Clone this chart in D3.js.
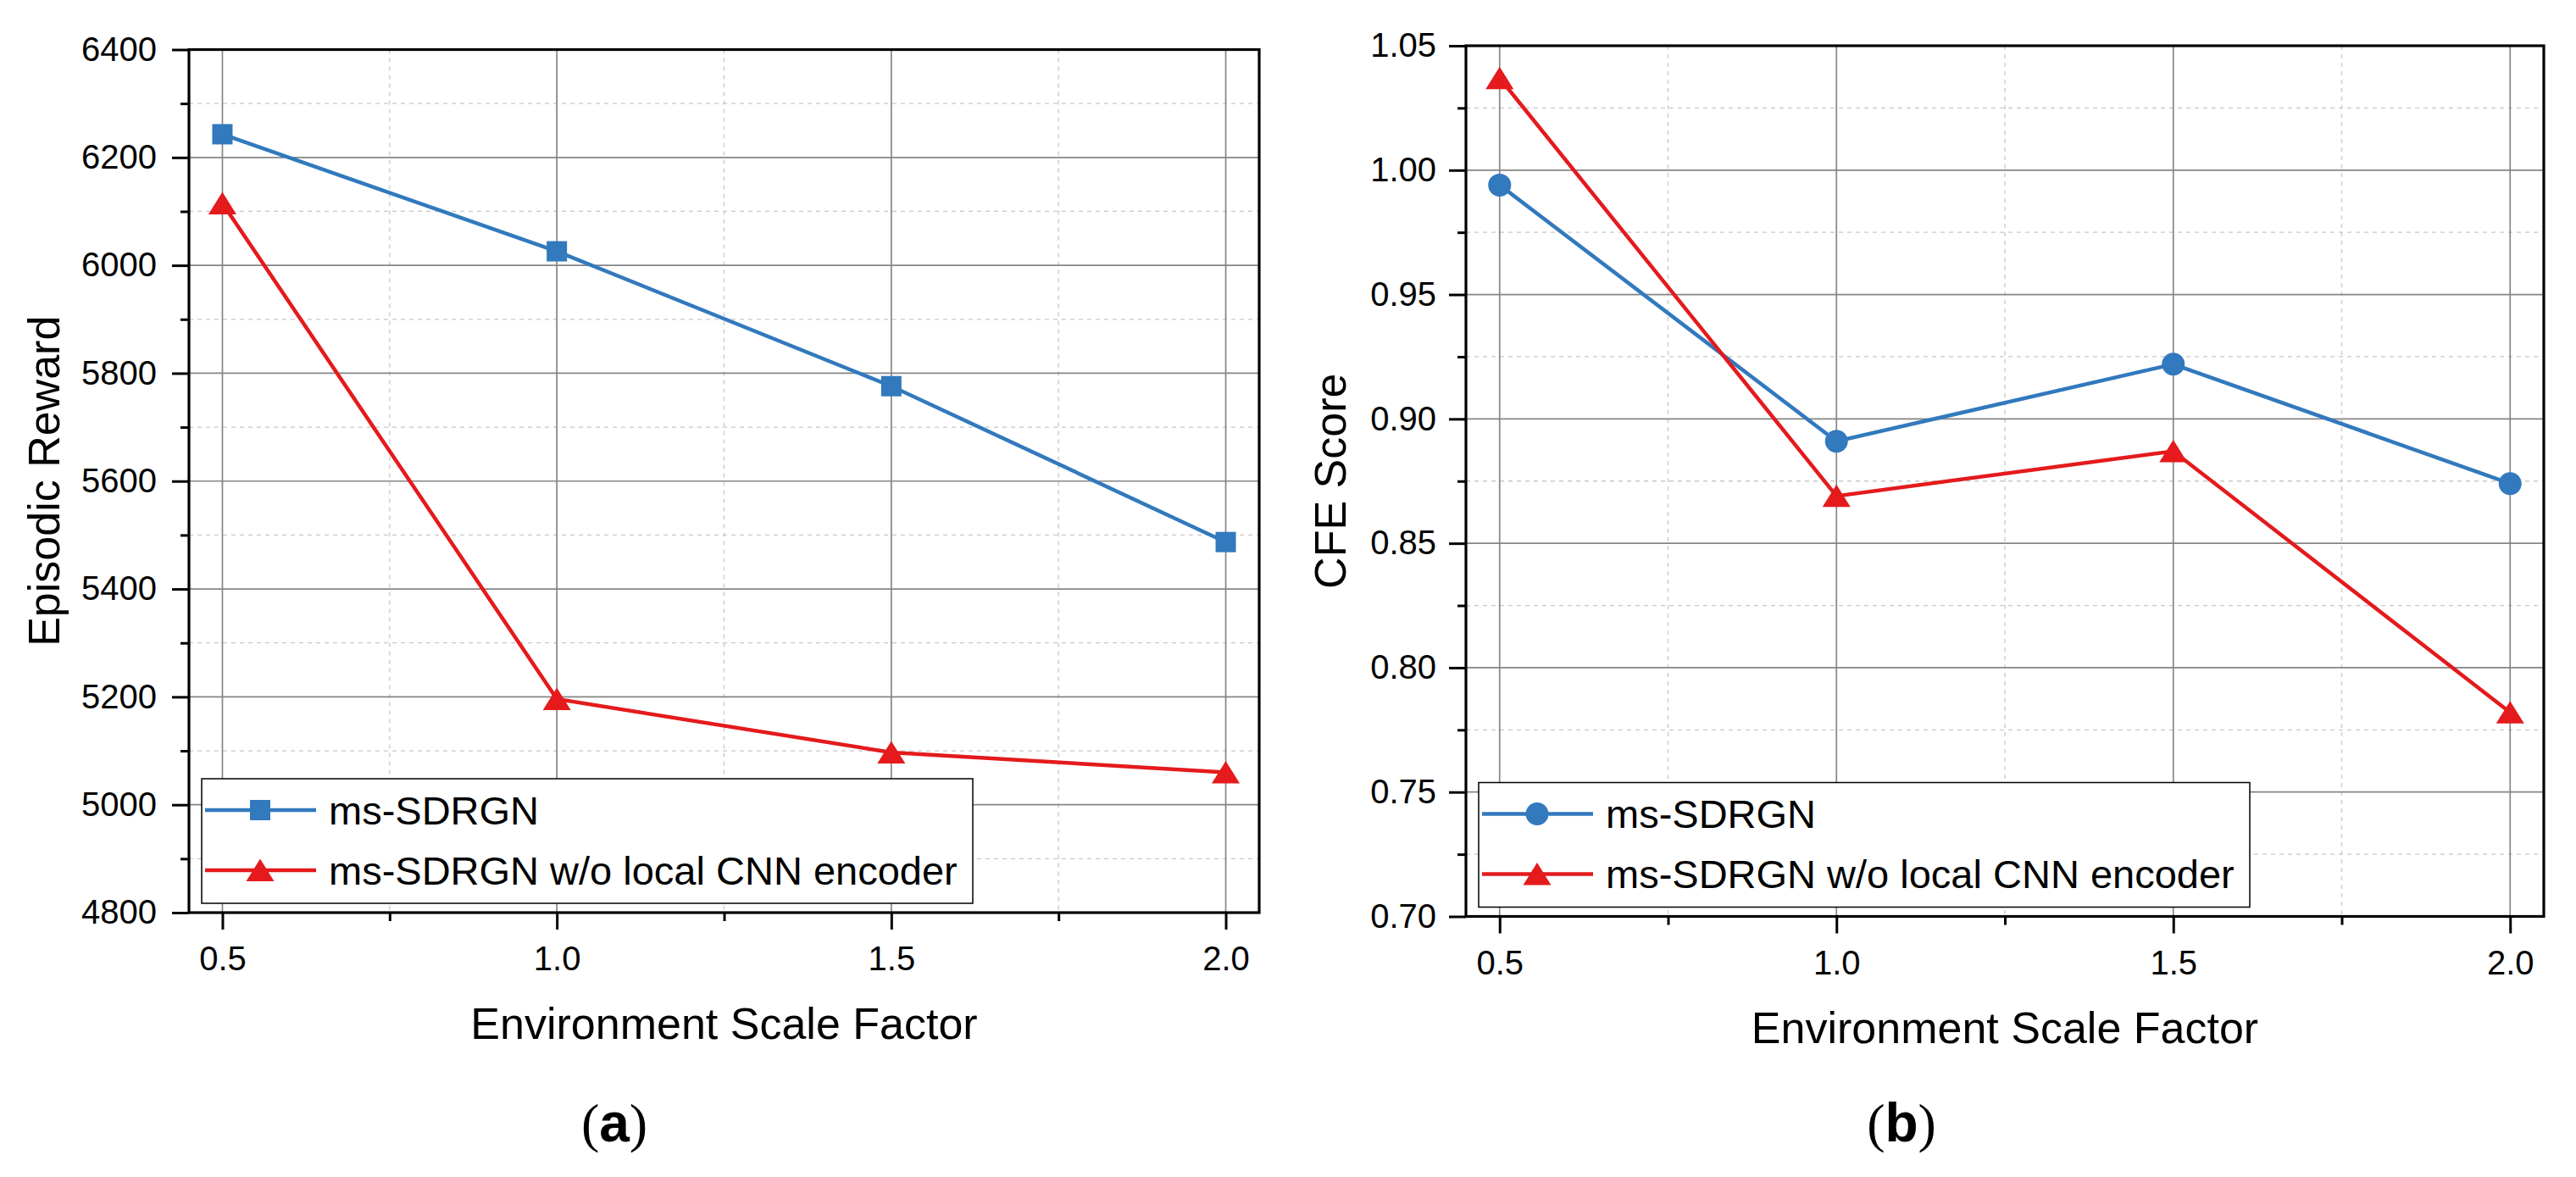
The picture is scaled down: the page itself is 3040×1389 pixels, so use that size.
<!DOCTYPE html>
<html lang="en">
<head>
<meta charset="utf-8">
<title>ms-SDRGN ablation</title>
<script src="https://cdn.jsdelivr.net/npm/d3@7/dist/d3.min.js"></script>
<style>
  body { margin: 0; background: #fff; }
  svg { display: block; }
  text { font-family: "Liberation Sans", Arial, sans-serif; fill: #000; }
</style>
</head>
<body>
<script>
// data
const scaleFactors = [0.5, 1.0, 1.5, 2.0];
const seriesNames = ["ms-SDRGN", "ms-SDRGN w/o local CNN encoder"];
const rewardFull = [6243, 6026, 5776, 5487];
const rewardNoCnn = [6115, 5196, 5097, 5060];
const cfeFull = [0.994, 0.891, 0.922, 0.874];
const cfeNoCnn = [1.037, 0.869, 0.887, 0.782];
const xTicks = [0.5, 1.0, 1.5, 2.0];
const xMinor = [0.75, 1.25, 1.75];
const rewardTicks = [4800, 5000, 5200, 5400, 5600, 5800, 6000, 6200, 6400];
const rewardMinor = [4900, 5100, 5300, 5500, 5700, 5900, 6100, 6300];
const cfeTicks = [0.70, 0.75, 0.80, 0.85, 0.90, 0.95, 1.00, 1.05];
const cfeMinor = [0.725, 0.775, 0.825, 0.875, 0.925, 0.975, 1.025];

const blue = "#3279bd", red = "#e41a1c";

const svg = d3.select("body").append("svg")
    .attr("width", 3040).attr("height", 1389)
    .attr("viewBox", [0, 0, 3040, 1389]);

function drawPanel(p) {
    var x = d3.scaleLinear().domain([0.45, 2.05]).range([p.left, p.right]);
    var y = d3.scaleLinear().domain(p.yDomain).range([p.bottom, p.top]);
    var g = svg.append("g");

    // minor grid (dashed)
    g.append("g").selectAll("line").data(xMinor).join("line")
        .attr("x1", d => x(d)).attr("x2", d => x(d))
        .attr("y1", p.top).attr("y2", p.bottom);
    g.append("g").selectAll("line").data(p.yMinor).join("line")
        .attr("x1", p.left).attr("x2", p.right)
        .attr("y1", d => y(d)).attr("y2", d => y(d));
    g.selectAll("g line").attr("stroke", "#c8c8c8").attr("stroke-width", 1.3)
        .attr("stroke-dasharray", "5,5");

    // major grid
    var major = g.append("g").attr("stroke", "#858585").attr("stroke-width", 1.7);
    major.selectAll(".vx").data(xTicks).join("line").attr("class", "vx")
        .attr("x1", d => x(d)).attr("x2", d => x(d))
        .attr("y1", p.top).attr("y2", p.bottom);
    major.selectAll(".hy").data(p.yTicks).join("line").attr("class", "hy")
        .attr("x1", p.left).attr("x2", p.right)
        .attr("y1", d => y(d)).attr("y2", d => y(d));

    // axes
    var ax = g.append("g").attr("transform", `translate(${p.left},0)`)
        .call(d3.axisLeft(y).tickValues(p.yTicks).tickFormat(p.yFormat).tickSize(20).tickSizeOuter(0).tickPadding(p.yPad));
    var axm = g.append("g").attr("transform", `translate(${p.left},0)`)
        .call(d3.axisLeft(y).tickValues(p.yMinor).tickFormat("").tickSize(10).tickSizeOuter(0));
    var bx = g.append("g").attr("transform", `translate(0,${p.bottom})`)
        .call(d3.axisBottom(x).tickValues(xTicks).tickFormat(d3.format(".1f")).tickSize(20).tickSizeOuter(0).tickPadding(20));
    var bxm = g.append("g").attr("transform", `translate(0,${p.bottom})`)
        .call(d3.axisBottom(x).tickValues(xMinor).tickFormat("").tickSize(10).tickSizeOuter(0));
    [ax, axm, bx, bxm].forEach(a => {
        a.select(".domain").remove();
        a.selectAll("line").attr("stroke", "#000").attr("stroke-width", 3);
        a.selectAll("text").attr("font-size", 40).attr("font-family", null);
    });

    // frame
    g.append("rect").attr("x", p.left).attr("y", p.top)
        .attr("width", p.right - p.left).attr("height", p.bottom - p.top)
        .attr("fill", "none").attr("stroke", "#000").attr("stroke-width", 3.2);

    // series
    var line = d3.line().x((d, i) => x(scaleFactors[i])).y(d => y(d));
    var series = [
        {vals: p.full, color: blue, mark: p.blueMark},
        {vals: p.noCnn, color: red, mark: "tri"}
    ];
    series.forEach(s => {
        g.append("path").datum(s.vals).attr("d", line)
            .attr("fill", "none").attr("stroke", s.color).attr("stroke-width", 4.5);
    });
    series.forEach(s => {
        drawMarks(g, s.vals.map((v, i) => [x(scaleFactors[i]), y(v)]), s.mark, s.color);
    });

    // legend
    var lg = g.append("g");
    lg.append("rect").attr("x", p.left + 15).attr("y", p.bottom - 158)
        .attr("width", 910).attr("height", 147)
        .attr("fill", "#fff").attr("stroke", "#000").attr("stroke-width", 1.5);
    series.forEach((s, i) => {
        var ly = p.bottom - 121 + i * 71;
        lg.append("line").attr("x1", p.left + 19).attr("x2", p.left + 150)
            .attr("y1", ly).attr("y2", ly).attr("stroke", s.color).attr("stroke-width", 4.5);
        drawMarks(lg, [[p.left + 84, ly]], s.mark, s.color);
        lg.append("text").attr("x", p.left + 165).attr("y", ly).attr("dy", "0.36em")
            .attr("font-size", 47).text(seriesNames[i]);
    });

    // titles
    g.append("text").attr("x", (p.left + p.right) / 2).attr("y", p.bottom + 149)
        .attr("text-anchor", "middle").attr("font-size", 52).text("Environment Scale Factor");
    g.append("text").attr("transform", `translate(${p.yTitleX},${(p.top + p.bottom) / 2}) rotate(-90)`)
        .attr("text-anchor", "middle").attr("font-size", 52).text(p.yTitle);

    // subfigure caption: thin parens, bold letter
    var cap = g.append("text").attr("x", p.capX).attr("y", 1347)
        .attr("text-anchor", "middle").attr("font-size", 64);
    cap.append("tspan").attr("font-family", "'Liberation Serif', serif").text("(");
    cap.append("tspan").attr("font-weight", "bold").text(p.capLetter);
    cap.append("tspan").attr("font-family", "'Liberation Serif', serif").text(")");
}

function drawMarks(g, pts, kind, color) {
    pts.forEach(([cx, cy]) => {
        if (kind === "square") {
            g.append("rect").attr("x", cx - 12).attr("y", cy - 12)
                .attr("width", 24).attr("height", 24).attr("fill", color);
        } else if (kind === "circle") {
            g.append("circle").attr("cx", cx).attr("cy", cy).attr("r", 13.5).attr("fill", color);
        } else {
            g.append("path").attr("d", `M${cx},${cy - 13.5} L${cx + 16.5},${cy + 13} L${cx - 16.5},${cy + 13} Z`)
                .attr("fill", color);
        }
    });
}

drawPanel({
    left: 223, right: 1486, top: 58.5, bottom: 1077,
    yDomain: [4800, 6400], yTicks: rewardTicks, yMinor: rewardMinor,
    yFormat: d3.format("d"), yPad: 18,
    full: rewardFull, noCnn: rewardNoCnn, blueMark: "square",
    yTitle: "Episodic Reward", yTitleX: 70,
    capX: 725, capLetter: "a"
});

drawPanel({
    left: 1730, right: 3002, top: 54, bottom: 1081.5,
    yDomain: [0.70, 1.05], yTicks: cfeTicks, yMinor: cfeMinor,
    yFormat: d3.format(".2f"), yPad: 15,
    full: cfeFull, noCnn: cfeNoCnn, blueMark: "circle",
    yTitle: "CFE Score", yTitleX: 1588,
    capX: 2244, capLetter: "b"
});
</script>
</body>
</html>
